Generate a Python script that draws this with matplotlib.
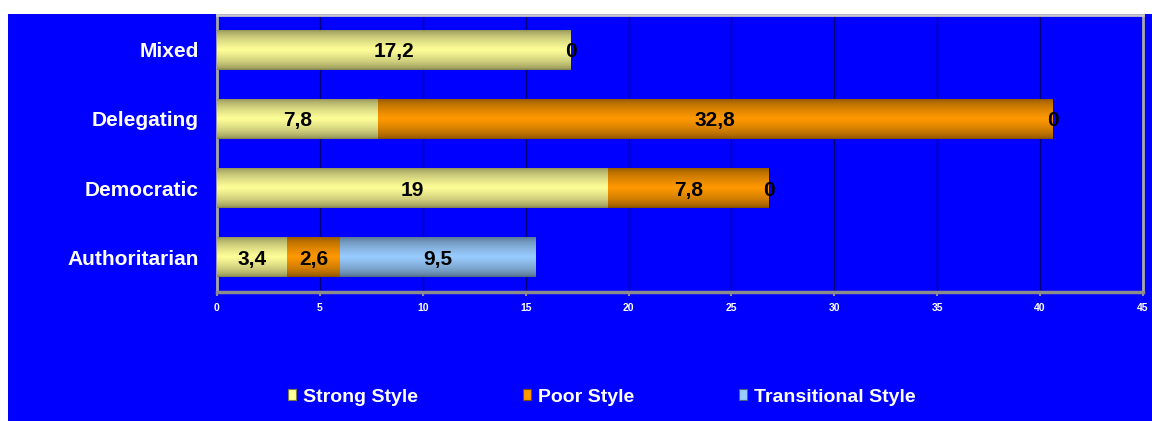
import numpy as np
import matplotlib
matplotlib.use("Agg")
import matplotlib.pyplot as plt
from matplotlib.patches import Rectangle
from matplotlib.colors import to_rgb

# ---------------- data ----------------
categories = ["Authoritarian", "Democratic", "Delegating", "Mixed"]
strong = [3.4, 19, 7.8, 17.2]
poor = [2.6, 7.8, 32.8, 0]
transitional = [9.5, 0, 0, 0]
series_names = ["Strong Style", "Poor Style", "Transitional Style"]
x_ticks = [0, 5, 10, 15, 20, 25, 30, 35, 40, 45]

# ---------------- style ----------------
light_cols = ["#FFFF99", "#FF9900", "#99CCFF"]
dark_cols = ["#7F7F4D", "#7F4C00", "#4D6680"]
BLUE = "#0000FF"
FONT = ["Liberation Sans", "DejaVu Sans"]
plt.rcParams["font.family"] = FONT

W, H = 1152, 421
fig = plt.figure(figsize=(W / 100, H / 100), dpi=100)
fig.patch.set_facecolor("white")
fig.add_artist(Rectangle((8 / W, 0), 1 - 8 / W, 1 - 14 / H, transform=fig.transFigure,
                         facecolor=BLUE, edgecolor="none", zorder=-10))

ax = fig.add_axes([217 / W, 129 / H, (1143 - 217) / W, (292 - 15) / H])
ax.set_facecolor(BLUE)

y = np.arange(len(categories))
bar_h = 0.58


def gradient(light, dark, n=64):
    t = np.linspace(0, 1, n)
    m = (1 - np.abs(2 * t - 1)) ** 0.55
    l = np.array(to_rgb(light))
    d = np.array(to_rgb(dark))
    cols = d[None, :] + (l - d)[None, :] * m[:, None]
    return cols[:, None, :]


all_series = [strong, poor, transitional]
left = np.zeros(len(categories))
label_fs = 15
for si, vals in enumerate(all_series):
    vals = np.array(vals, dtype=float)
    bars = ax.barh(y, vals, left=left, height=bar_h, color=light_cols[si],
                   edgecolor="none", zorder=3, label=series_names[si])
    grad = gradient(light_cols[si], dark_cols[si])
    for p in bars.patches:
        w = p.get_width()
        if w <= 0:
            continue
        x0, y0, hh = p.get_x(), p.get_y(), p.get_height()
        im = ax.imshow(grad, extent=[x0, x0 + w, y0, y0 + hh], aspect="auto",
                       interpolation="bilinear", zorder=3.5, origin="lower")
        im.set_clip_path(p)
    for i, v in enumerate(vals):
        if v > 0:
            ax.text(left[i] + v / 2, y[i], f"{v:g}".replace(".", ","), ha="center",
                    va="center_baseline", fontsize=label_fs, fontweight="bold",
                    color="black", zorder=5)
        elif si == len(all_series) - 1:
            ax.text(left[i], y[i], "0", ha="center", va="center_baseline", fontsize=label_fs,
                    fontweight="bold", color="black", zorder=5)
    left = left + vals

ax.set_xlim(0, 45)
ax.set_ylim(-0.5, len(categories) - 0.5)
ax.set_xticks(x_ticks)
ax.set_xticklabels([str(t) for t in x_ticks])
ax.set_yticks(y)
ax.set_yticklabels(categories)

ax.xaxis.grid(True, color="#00007A", linewidth=1.0, zorder=1)
ax.set_axisbelow(True)

ax.tick_params(axis="x", colors="#909090", length=3, width=1.5, pad=5,
               labelcolor="white", labelsize=7.5)
ax.tick_params(axis="y", length=0, pad=13, labelcolor="white", labelsize=15)
for lab in ax.get_xticklabels() + ax.get_yticklabels():
    lab.set_fontweight("bold")

ax.spines["left"].set_color("#A8A8A8")
ax.spines["left"].set_linewidth(2)
ax.spines["bottom"].set_color("#8C8C8C")
ax.spines["bottom"].set_linewidth(2.5)
ax.spines["top"].set_color("#C8C8C8")
ax.spines["top"].set_linewidth(2)
ax.spines["right"].set_color("#A8A8A8")
ax.spines["right"].set_linewidth(2)

handles = [Rectangle((0, 0), 1, 1, facecolor=light_cols[i], edgecolor=dark_cols[i], linewidth=0.8)
           for i in range(3)]
leg = fig.legend(handles, series_names, loc="center left",
                 bbox_to_anchor=(288 / W, 24 / H), ncol=3, frameon=False,
                 handlelength=0.42, handleheight=0.5, handletextpad=0.35,
                 columnspacing=5.4, borderpad=0, borderaxespad=0,
                 prop={"family": FONT, "weight": "bold", "size": 14})
for t in leg.get_texts():
    t.set_color("white")

fig.savefig("out.png", dpi=100, facecolor=fig.get_facecolor())
